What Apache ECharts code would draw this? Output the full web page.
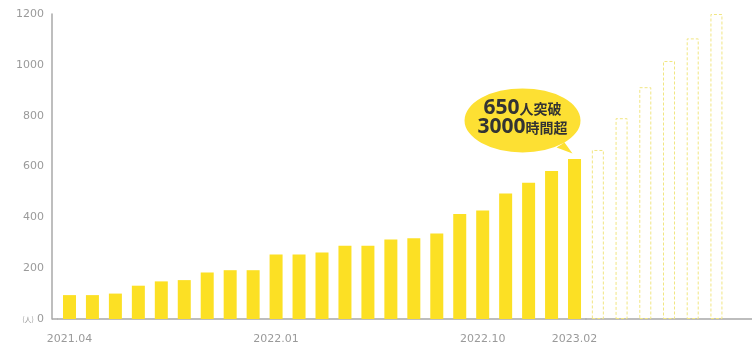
<!DOCTYPE html>
<html>
<head>
<meta charset="utf-8">
<script src="https://cdn.jsdelivr.net/npm/echarts@6/dist/echarts.min.js"></script>
<style>
html,body{margin:0;padding:0;background:#fff;}
#chart{width:752px;height:346px;}
</style>
</head>
<body>
<div id="chart"></div>
<script>
// ---- data ----
const months = ['2021.04','2021.05','2021.06','2021.07','2021.08','2021.09','2021.10','2021.11','2021.12',
  '2022.01','2022.02','2022.03','2022.04','2022.05','2022.06','2022.07','2022.08','2022.09',
  '2022.10','2022.11','2022.12','2023.01','2023.02'];
const actualValues = [94,94,100,131,148,153,183,192,192,254,254,262,288,288,313,318,336,413,427,494,536,582,630];
const goalCategories = ['目標1','目標2','目標3','目標4','目標5','目標6',''];
const goalValues = [665,790,912,1015,1104,1200,'-'];
const xTickLabels = ['2021.04','2022.01','2022.10','2023.02'];
const yTicks = {min:0, max:1200, interval:200};
const calloutLine1 = ['650','人突破'];
const calloutLine2 = ['3000','時間超'];

const chart = echarts.init(document.getElementById('chart'));
const labelFont = '"DejaVu Sans", sans-serif';
const labelGray = '#9a9a9a';
const axisGray = '#a8a8a8';
const yellow = '#FCE024';

const option = {
  backgroundColor:'#fff',
  animation:false,
  grid:[
    {left:58, right:166, top:14, bottom:27},
    {left:586, right:0, top:14, bottom:27}
  ],
  xAxis:[
    {type:'category', gridIndex:0, data:months,
     axisLine:{lineStyle:{color:axisGray, width:1.5}},
     axisTick:{show:false},
     axisLabel:{interval:(i,v)=>xTickLabels.includes(v), color:labelGray, fontSize:11, fontFamily:labelFont, margin:15}},
    {type:'category', gridIndex:1, data:goalCategories,
     axisLine:{lineStyle:{color:axisGray, width:1.5}},
     axisTick:{show:false}, axisLabel:{show:false}}
  ],
  yAxis:[
    {type:'value', gridIndex:0, min:yTicks.min, max:yTicks.max, interval:yTicks.interval, offset:6,
     axisLine:{show:true, lineStyle:{color:axisGray, width:1.5}},
     axisTick:{show:false}, splitLine:{show:false},
     axisLabel:{color:labelGray, fontSize:11, fontFamily:labelFont, margin:8,
       formatter:v=> v===0 ? '{u|(人)  }0' : String(v),
       rich:{u:{fontSize:7, color:labelGray, fontFamily:'"Noto Sans CJK JP", sans-serif'}}}},
    {type:'value', gridIndex:1, min:yTicks.min, max:yTicks.max, interval:yTicks.interval, show:false}
  ],
  series:[
    {type:'bar', xAxisIndex:0, yAxisIndex:0, data:actualValues, barWidth:13,
     itemStyle:{color:yellow},
     markPoint:{
       symbol:'path://M0,32 A58,32 0 1,1 116,32 A58,32 0 1,1 0,32 Z M100,54 L108,65 L92,59 Z',
       symbolSize:[116,65], symbolKeepAspect:false, symbolOffset:[-52,-38],
       itemStyle:{color:'#FDE033'},
       label:{show:true, position:'inside', offset:[0,-3], lineHeight:19,
         formatter:'{n|'+calloutLine1[0]+'}{c|'+calloutLine1[1]+'}\n{n|'+calloutLine2[0]+'}{c|'+calloutLine2[1]+'}',
         rich:{
           n:{fontSize:21, fontWeight:'bold', color:'#333', fontFamily:'"Noto Sans", sans-serif', lineHeight:19},
           c:{fontSize:14, fontWeight:'bold', color:'#333', fontFamily:'"Noto Sans CJK JP", sans-serif', lineHeight:19}
         }},
       data:[{coord:[months[months.length-1], actualValues[actualValues.length-1]]}]
     }},
    {type:'bar', xAxisIndex:1, yAxisIndex:1, data:goalValues, barWidth:12,
     itemStyle:{color:'rgba(255,255,255,0)', borderColor:'#F1E682', borderWidth:1, borderType:[3,2]}}
  ]
};
chart.setOption(option);

// extend x-axis baseline to meet the offset y-axis line
const rect = chart.getModel().getComponent('grid',0).coordinateSystem.getRect();
chart.setOption({graphic:[{type:'line', silent:true,
  shape:{x1:rect.x-6, y1:rect.y+rect.height, x2:rect.x, y2:rect.y+rect.height},
  style:{stroke:axisGray, lineWidth:1.5}}]});
</script>
</body>
</html>
